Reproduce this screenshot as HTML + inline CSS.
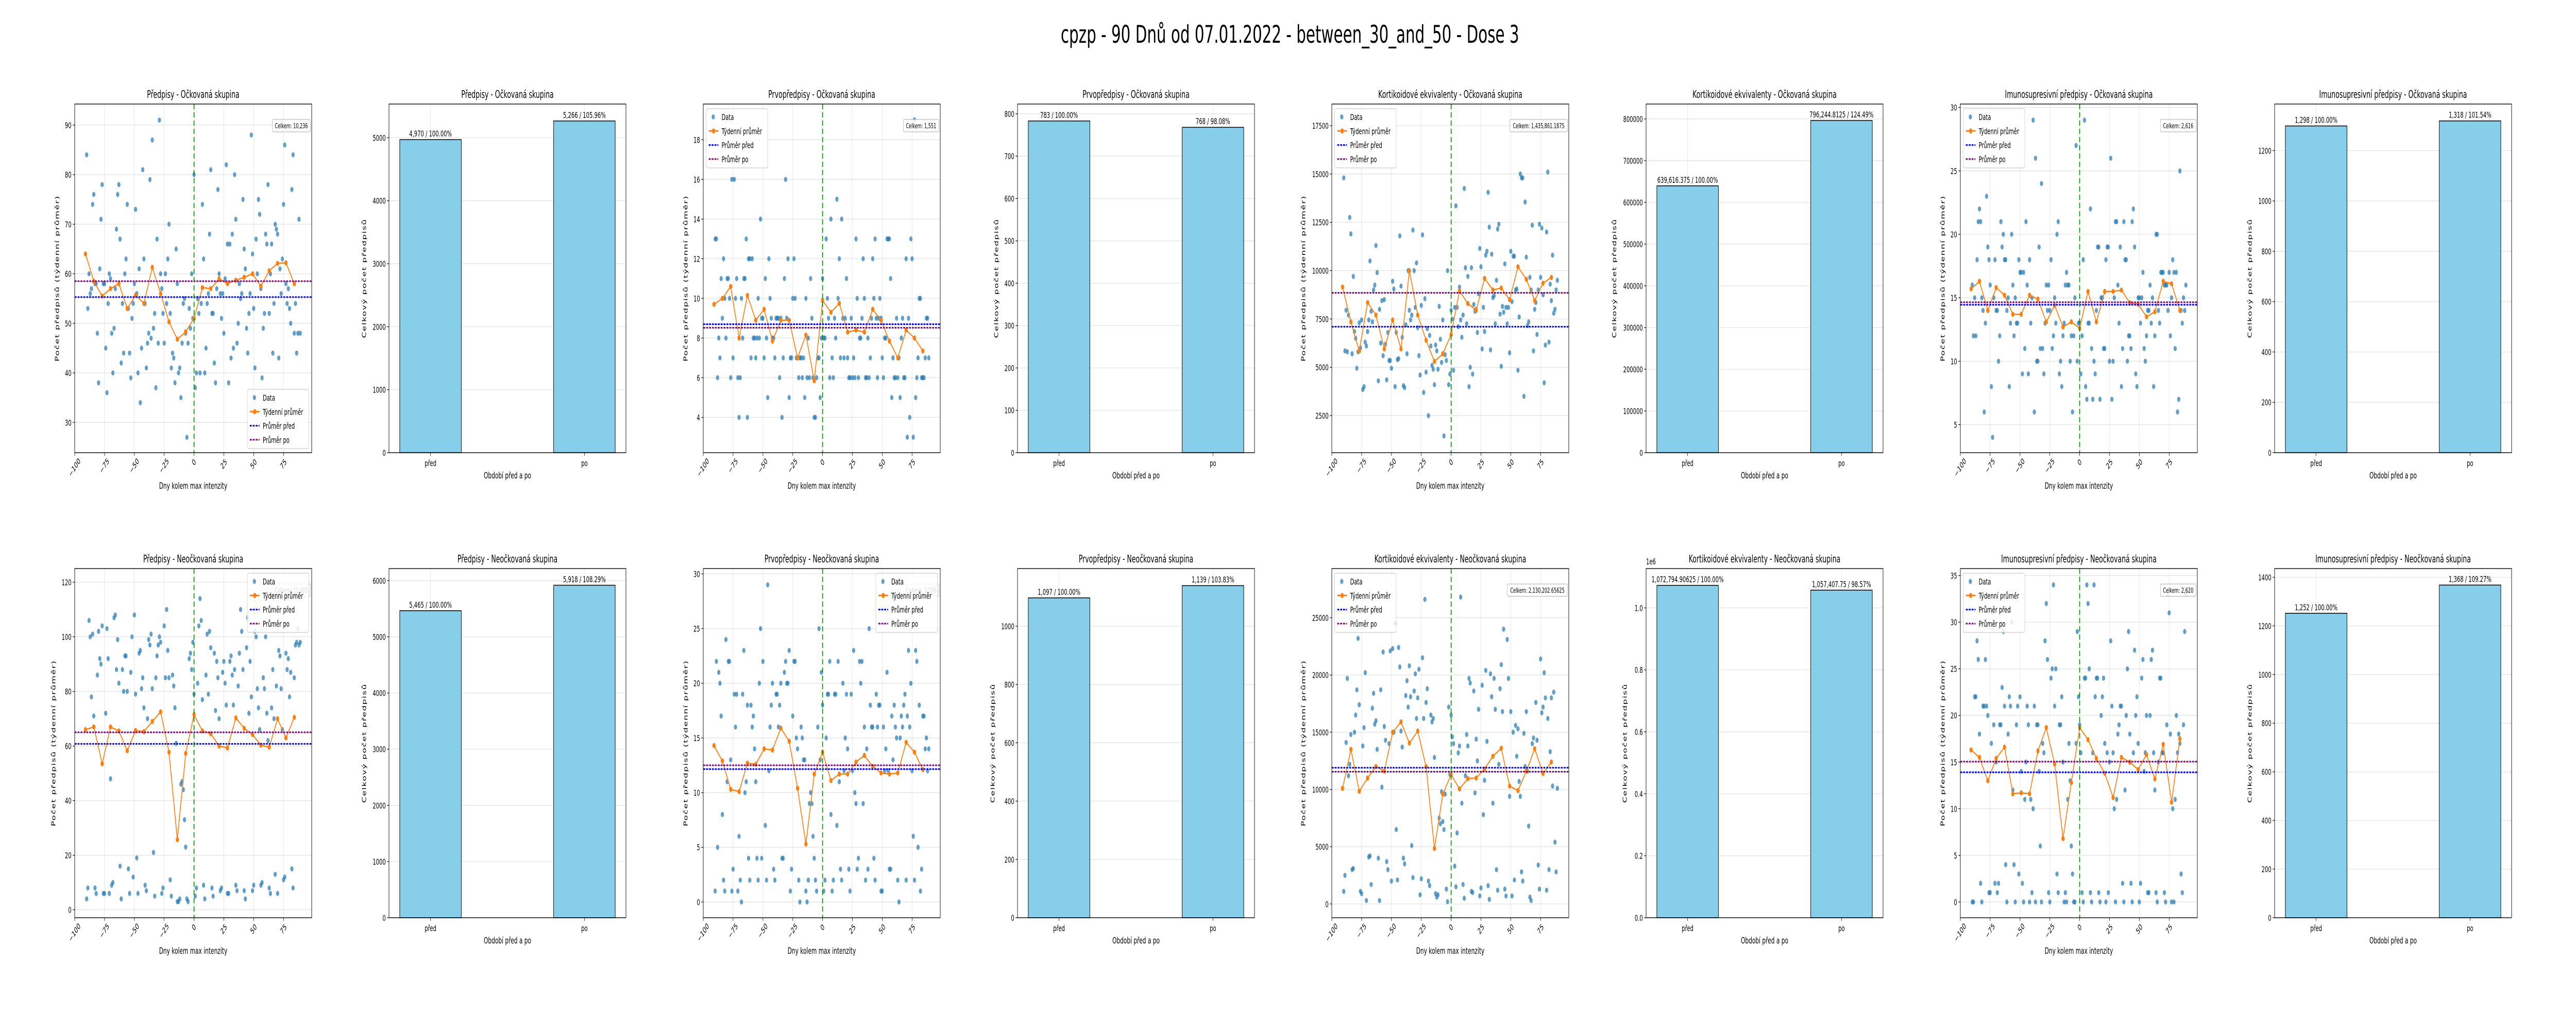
<!DOCTYPE html>
<html><head><meta charset="utf-8">
<style>
html,body{margin:0;padding:0;background:#fff;overflow:hidden;width:100vw;height:100vh;}
svg{display:block;width:100vw;height:100vh;font-family:"DejaVu Sans","Liberation Sans",sans-serif;}
</style></head>
<body>
<svg id="fig" xmlns="http://www.w3.org/2000/svg" viewBox="0 0 8000 2000" preserveAspectRatio="none">
<rect x="0" y="0" width="8000" height="2000" fill="#fff"/>
<text x="4006" y="83" font-size="47" text-anchor="middle" fill="#000">cpzp - 90 Dnů od 07.01.2022 - between_30_and_50 - Dose 3</text>
</svg>
<script>
// ---------- data ----------
const p1Daily=[84,53,60,56,57,74,76,58,58,48,38,61,71,78,58,58,45,36,54,60,59,48,40,49,57,69,76,78,67,42,54,44,60,63,74,53,44,39,51,54,58,73,56,40,61,34,45,81,63,54,41,46,48,79,47,87,49,52,37,67,46,91,60,57,52,46,60,54,63,70,52,41,44,43,38,65,58,40,41,35,46,54,55,48,27,46,53,49,60,51,80,37,40,55,52,40,54,74,63,40,45,54,56,68,81,52,52,42,38,57,77,60,56,51,56,48,59,82,66,38,66,43,68,45,80,71,46,50,58,55,56,75,65,61,49,44,52,56,88,64,53,41,67,60,75,72,57,39,49,52,68,66,78,52,60,66,44,54,70,69,68,43,61,56,63,74,86,58,54,57,53,50,77,84,48,54,44,48,71,48];
const p1Weekly=[64,58.5,55.5,57,58,53,55.7,54,61.3,56,50.3,46.8,48.3,51,57.2,57,59,58,58.7,59.3,60,57.5,60.6,62.1,62.2,58];
const p1Means=[55.3,58.5];
const p2Values=[4970,5266];

const p3Daily=[13,13,6,8,7,11,9,12,10,8,11,11,10,6,16,7,16,10,11,6,4,6,10,8,11,11,13,4,12,12,7,12,8,8,7,8,10,8,14,9,9,7,11,8,5,12,10,9,8,8,7,9,9,9,6,9,4,7,11,16,9,12,5,7,7,10,12,10,7,7,6,7,7,6,7,5,10,6,8,6,11,9,6,4,4,6,7,7,5,8,11,8,8,13,10,9,6,14,7,6,9,8,15,10,12,7,14,9,7,9,11,7,6,6,9,6,7,6,13,10,6,8,8,9,12,10,6,6,8,6,7,9,12,10,13,9,6,9,10,9,7,6,8,8,13,13,13,11,5,7,6,6,9,6,7,5,8,9,6,6,12,3,9,4,13,12,3,19,5,6,7,10,10,6,6,6,7,9,9,7];
const p3Weekly=[9.7,10,10.6,8,10.15,8.9,9.45,7.85,8.9,8.9,7,8.15,5.85,9.9,9.3,9.75,8.3,8.4,8.3,9.45,8.9,7.85,7,8.4,8,7.35];
const p3Means=[8.7,8.52];
const p4Values=[783,768];

const p5Daily=[14800,5850,7950,5800,7700,12750,11900,5700,9700,6850,6500,4950,5800,7300,6000,7450,3850,4000,6300,6100,6850,7450,10500,7900,7350,9000,9250,11300,9900,4300,8000,6250,8450,5600,8500,6200,4350,6800,5350,5350,4950,9450,9050,4000,6800,5400,5450,11800,9200,6550,4050,3950,7200,5700,10000,7950,7450,7700,12100,10000,8100,10400,7050,5600,4600,8200,11850,3700,8550,4750,7000,2500,6650,6100,5100,4900,4100,6150,5850,4900,8150,6450,5250,7450,1450,5650,5350,10000,4100,4650,7950,7500,4850,8100,13350,8100,7100,9150,7450,6550,7700,14250,10150,7250,9700,4000,5000,10150,4650,8250,7900,8000,6800,8800,11150,10200,5950,8100,6850,10800,11000,14050,12250,5900,10850,8600,8700,7250,9500,12150,12400,7750,5050,8150,7850,10350,8100,7250,8100,5750,11000,8400,10750,10750,9000,9050,4850,7600,15000,14800,14800,3500,13550,10700,7150,7350,9650,9000,12350,5850,8000,8350,6700,9000,12400,9650,12200,8750,4200,6150,12000,15100,6300,9300,8450,10800,7800,8000,9000,9500];
const p5Weekly=[9150,7350,5850,8350,7700,5950,7450,5950,10000,7700,6400,5300,5700,6700,8950,8300,7950,9600,9000,9100,8500,10200,9550,8450,9350,9650];
const p5Means=[7100,8850];
const p6Values=[639616.375,796244.8125];

const p7Daily=[16,12,15,12,18,21,22,21,15,14,6,13,23,19,18,16,8,4,15,18,14,14,10,12,21,19,20,18,18,14,15,8,13,20,16,12,15,13,13,18,17,17,9,17,11,21,16,9,18,13,15,29,6,26,10,10,19,11,24,11,9,13,16,14,16,14,18,11,12,15,13,20,21,9,10,8,12,13,16,17,16,16,10,12,6,12,15,27,10,13,13,9,12,18,29,8,7,13,13,22,11,7,10,9,14,19,19,7,15,15,11,11,18,19,19,10,26,7,10,15,21,21,16,13,19,8,11,21,18,18,10,12,12,11,21,22,19,9,8,15,15,13,15,17,11,10,12,14,14,16,13,15,8,12,20,20,14,13,17,17,17,16,16,16,14,17,12,15,18,17,11,17,6,7,25,14,13,15,14,16];
const p7Weekly=[15.7,16.3,14,15.8,15.2,13.7,13.7,15.2,14.9,13.1,14.4,12.7,13.1,12.6,15.5,13.1,15.5,15.5,15.6,14.6,14.5,13.5,13.9,16.3,16.1,14];
const p7Means=[14.45,14.65];
const p8Values=[1298,1318];

const p9Daily=[4,8,106,100,78,101,71,8,6,86,102,92,90,104,6,6,72,103,92,6,48,9,10,107,108,88,99,83,16,4,88,80,93,93,80,15,6,87,100,12,108,79,19,6,94,95,81,85,74,9,7,70,99,97,101,81,21,5,85,93,97,100,98,6,8,104,85,110,95,85,11,5,86,82,74,61,3,3,4,46,47,44,33,23,4,3,92,94,88,98,79,5,8,83,104,114,106,77,9,4,86,101,79,102,96,8,5,94,73,91,85,70,7,8,87,91,83,75,6,6,91,93,86,75,88,9,7,82,94,110,102,88,7,4,96,107,72,91,78,7,9,102,100,81,74,66,9,10,85,81,100,72,62,8,6,74,88,70,13,82,6,95,93,81,66,11,12,94,88,92,78,87,15,8,85,97,98,103,97,98];
const p9Weekly=[66,67,53.5,67,65.5,58.3,65.7,65.3,69,72.5,57.7,25.7,57.3,71.5,65.5,64.5,60,59.3,70.3,66.5,64.2,60.3,59.6,70,63,70.5];
const p9Means=[60.8,65];
const p10Values=[5465,5918];

const p11Daily=[1,22,5,21,20,17,8,2,1,24,11,22,22,13,1,3,19,16,19,1,6,2,0,19,23,10,11,18,4,2,18,16,17,14,11,4,2,20,25,4,22,14,7,2,29,12,16,18,20,3,2,19,19,16,18,20,4,4,21,22,20,20,23,1,3,17,22,22,15,14,2,0,16,15,13,13,1,0,2,9,10,9,6,4,2,1,16,25,13,21,18,1,2,15,19,19,22,8,1,2,19,19,7,22,11,3,2,20,12,15,19,14,3,1,19,12,23,10,9,3,4,22,20,22,9,16,2,14,3,25,18,16,16,4,2,19,16,18,18,1,1,16,12,14,21,12,3,3,17,13,18,16,15,2,0,15,17,16,18,19,2,17,23,16,20,12,6,2,23,22,5,18,1,3,17,17,14,15,12,14];
const p11Weekly=[14.3,12.9,10.3,10.1,12.7,12.6,14,13.9,15.9,14.7,10.4,5.3,11.7,13.7,11.1,11.7,11.7,12.8,13.4,12.4,11.8,11.7,11.8,14.6,13.7,12.1];
const p11Means=[12.15,12.5];
const p12Values=[1097,1139];

const p13Daily=[1100,2500,14100,19700,11200,12200,14800,3000,3100,15000,16500,18700,23200,17400,1100,900,13800,15400,20200,300,11000,4100,4200,1700,17100,18400,15700,16000,13500,4000,300,18700,10200,22000,15500,14300,3700,3000,14000,22100,2000,22300,15000,24500,6500,2100,22400,20700,15100,13700,4000,3500,18200,19500,17200,20800,18100,5100,2300,18600,20100,16200,18000,20500,800,2200,21500,16200,26600,17600,18800,2000,1600,16500,15900,16200,12800,900,600,800,7500,7000,9800,7200,6500,9600,1300,200,17200,11300,16500,14600,14000,3300,1500,6200,13200,13800,26800,8800,1700,500,11200,14800,13800,19700,19300,1100,1000,18600,9700,14400,12500,17000,700,1400,19100,7800,10800,20400,14200,1600,400,20100,18100,8800,19700,17000,3000,1200,12200,18800,20900,16800,24000,1300,700,23100,19700,9400,16800,700,15000,2100,15600,12900,15300,10700,9400,2800,2000,14900,12000,16800,11600,6800,600,300,14000,14500,27600,17600,14300,3400,1300,21400,16700,17200,20200,18000,1200,16200,3000,13300,18000,10300,18500,5400,2800,10100];
const p13Weekly=[10100,13500,9850,11000,12000,11600,15000,15900,14050,15100,12000,4850,9600,11300,10050,10950,11000,11800,12900,13600,10300,9900,11600,13550,11400,12400];
const p13Means=[11900,11550];
const p14Values=[1072794.90625,1057407.75];

const p15Daily=[0,0,22,22,28,26,18,2,0,21,21,26,21,20,1,1,17,31,19,2,15,1,2,19,19,23,29,21,4,0,18,22,21,30,12,4,0,19,21,3,22,14,2,0,11,15,21,19,0,11,1,10,21,0,19,19,14,6,0,17,16,28,32,26,1,0,24,25,34,21,25,3,1,19,19,22,15,0,1,0,11,17,13,6,3,0,0,17,29,22,19,16,1,0,24,24,34,32,25,1,0,16,34,22,24,24,1,0,20,22,24,17,0,16,1,15,28,21,16,10,0,11,18,19,21,21,2,0,12,20,25,29,18,2,0,16,27,20,22,17,0,2,24,26,14,16,20,1,1,20,26,27,16,12,1,0,15,24,24,16,16,1,0,19,33,31,18,0,10,0,11,20,16,18,17,3,1,19,29,33];
const p15Weekly=[16.3,15.5,13,15.4,16.6,11.6,11.7,11.6,16.2,18.7,14.8,6.8,12.8,18.7,17.4,15.4,13.8,11.2,15.5,15,14.2,15.8,13.2,16.9,10.7,17.5];
const p15Means=[13.9,15.05];
const p16Values=[1252,1368];

const xTickValues=[-100,-75,-50,-25,0,25,50,75];
const barCategories=['před','po'];
const firstDay=-90;
const firstWeekDay=-91;

// ---------- layout ----------
const NS='http://www.w3.org/2000/svg';
const svg=document.getElementById('fig');
const AX_W=736, COL0=232, COL_STEP=976;
const ROWS=[[202,879],[1104,1782]];

function mk(tag,attrs,parent,text){
  const el=document.createElementNS(NS,tag);
  for(const k in attrs) el.setAttribute(k,attrs[k]);
  if(text!==undefined) el.textContent=text;
  (parent||svg).appendChild(el);
  return el;
}
function fmtNum(v){return v.toLocaleString('en-US',{maximumFractionDigits:5});}
function tickStr(v){return (v<0?'\u2212':'')+Math.abs(v);}

const panels=[
 {kind:'s',col:0,row:0,title:'Předpisy - Očkovaná skupina',daily:p1Daily,weekly:p1Weekly,means:p1Means,yd:[23.9,94.25],yt:[30,40,50,60,70,80,90],leg:'lr',total:'Celkem: 10,236'},
 {kind:'b',col:1,row:0,title:'Předpisy - Očkovaná skupina',vals:p2Values,yd:[0,5535],yt:[0,1000,2000,3000,4000,5000]},
 {kind:'s',col:2,row:0,title:'Prvopředpisy - Očkovaná skupina',daily:p3Daily,weekly:p3Weekly,means:p3Means,yd:[2.22,19.8],yt:[4,6,8,10,12,14,16,18],leg:'ul',total:'Celkem: 1,551'},
 {kind:'b',col:3,row:0,title:'Prvopředpisy - Očkovaná skupina',vals:p4Values,yd:[0,823],yt:[0,100,200,300,400,500,600,700,800]},
 {kind:'s',col:4,row:0,title:'Kortikoidové ekvivalenty - Očkovaná skupina',daily:p5Daily,weekly:p5Weekly,means:p5Means,yd:[583,18618],yt:[2500,5000,7500,10000,12500,15000,17500],leg:'ul',total:'Celkem: 1,435,861.1875'},
 {kind:'b',col:5,row:0,title:'Kortikoidové ekvivalenty - Očkovaná skupina',vals:p6Values,yd:[0,835700],yt:[0,100000,200000,300000,400000,500000,600000,700000,800000]},
 {kind:'s',col:6,row:0,title:'Imunosupresivní předpisy - Očkovaná skupina',daily:p7Daily,weekly:p7Weekly,means:p7Means,yd:[2.79,30.27],yt:[5,10,15,20,25,30],leg:'ul',total:'Celkem: 2,616'},
 {kind:'b',col:7,row:0,title:'Imunosupresivní předpisy - Očkovaná skupina',vals:p8Values,yd:[0,1385],yt:[0,200,400,600,800,1000,1200]},
 {kind:'s',col:0,row:1,title:'Předpisy - Neočkovaná skupina',daily:p9Daily,weekly:p9Weekly,means:p9Means,yd:[-2.9,125],yt:[0,20,40,60,80,100,120],leg:'ur',total:'Celkem: 11,383'},
 {kind:'b',col:1,row:1,title:'Předpisy - Neočkovaná skupina',vals:p10Values,yd:[0,6215],yt:[0,1000,2000,3000,4000,5000,6000]},
 {kind:'s',col:2,row:1,title:'Prvopředpisy - Neočkovaná skupina',daily:p11Daily,weekly:p11Weekly,means:p11Means,yd:[-1.44,30.49],yt:[0,5,10,15,20,25,30],leg:'ur',total:'Celkem: 2,236'},
 {kind:'b',col:3,row:1,title:'Prvopředpisy - Neočkovaná skupina',vals:p12Values,yd:[0,1197.5],yt:[0,200,400,600,800,1000]},
 {kind:'s',col:4,row:1,title:'Kortikoidové ekvivalenty - Neočkovaná skupina',daily:p13Daily,weekly:p13Weekly,means:p13Means,yd:[-1202,29293],yt:[0,5000,10000,15000,20000,25000],leg:'ul',total:'Celkem: 2,130,202.65625'},
 {kind:'b',col:5,row:1,title:'Kortikoidové ekvivalenty - Neočkovaná skupina',vals:p14Values,yd:[0,1127000],yt:[0,200000,400000,600000,800000,1000000],scale:1e6},
 {kind:'s',col:6,row:1,title:'Imunosupresivní předpisy - Neočkovaná skupina',daily:p15Daily,weekly:p15Weekly,means:p15Means,yd:[-1.69,35.75],yt:[0,5,10,15,20,25,30,35],leg:'ul',total:'Celkem: 2,620'},
 {kind:'b',col:7,row:1,title:'Imunosupresivní předpisy - Neočkovaná skupina',vals:p16Values,yd:[0,1435.8],yt:[0,200,400,600,800,1000,1200,1400]}
];

panels.forEach((p,i)=>{
  const L=COL0+COL_STEP*p.col, R=L+AX_W, T=ROWS[p.row][0], B=ROWS[p.row][1];
  const g=mk('g',{});
  
  
  const y=v=>B-(v-p.yd[0])/(p.yd[1]-p.yd[0])*(B-T);
  let x;
  if(p.kind==='s'){ x=v=>L+(v+100)/198.6*AX_W; }
  else { x=v=>L+(v+0.27)/1.54*AX_W; }

  p.yt.forEach(v=>{
    const ln=mk('line',{x1:L,x2:R,y1:y(v),y2:y(v),stroke:'#b0b0b0','stroke-opacity':0.35,'stroke-width':1.3},g);
    
    
  });
  const xgrid=p.kind==='s'?xTickValues:[0,1];
  xgrid.forEach(v=>{
    const ln=mk('line',{x1:x(v),x2:x(v),y1:T,y2:B,stroke:'#b0b0b0','stroke-opacity':0.35,'stroke-width':1.3},g);
    
    
  });

  let maxLen=0;
  p.yt.forEach(v=>{
    const s=p.scale?(v/p.scale).toFixed(1):tickStr(v);
    maxLen=Math.max(maxLen,s.length);
    const tk=mk('line',{x1:L-6,x2:L,y1:y(v),y2:y(v),stroke:'#000','stroke-width':1.2},g);
    
    
    const tl=mk('text',{x:L-10,y:y(v)+6,'font-size':16,'text-anchor':'end',fill:'#000'},g,s);
    
    
  });
  if(p.scale){
    const off=mk('text',{x:L,y:T-8,'font-size':16,fill:'#000'},g,'1e6');
    
    
  }
  const yl=L-(27+11*maxLen);
  const ylab=mk('text',{x:yl,y:(T+B)/2,'font-size':17,'text-anchor':'middle',fill:'#000','letter-spacing':'1.5',transform:`rotate(-90 ${yl} ${(T+B)/2})`},g,p.kind==='s'?'Počet předpisů (týdenní průměr)':'Celkový počet předpisů');
  
  

  const tt=mk('text',{x:(L+R)/2,y:T-12,'font-size':20,'text-anchor':'middle',fill:'#000'},g,p.title);
  
  

  if(p.kind==='s'){
    xTickValues.forEach(v=>{
      const s=tickStr(v);
      const tk=mk('line',{x1:x(v),x2:x(v),y1:B,y2:B+6,stroke:'#000','stroke-width':1.2},g);
      
      
      const w=s.length*9.5;
      const cy=B+10+(w+16)*0.707/2;
      const tl=mk('text',{x:x(v),y:cy+5,'font-size':16,'text-anchor':'middle',fill:'#000',transform:`rotate(-45 ${x(v)} ${cy})`},g,s);
      
      
    });
    const xl=mk('text',{x:(L+R)/2,y:B+70,'font-size':17,'text-anchor':'middle',fill:'#000'},g,'Dny kolem max intenzity');
    
    

    p.daily.forEach((v,k)=>{
      const c=mk('circle',{cx:x(firstDay+k),cy:y(v),r:5,fill:'#1f77b4','fill-opacity':0.7},g);
      
      
    });
    const pts=p.weekly.map((v,k)=>x(firstWeekDay+7*k).toFixed(1)+','+y(v).toFixed(1)).join(' ');
    const pl=mk('polyline',{points:pts,fill:'none',stroke:'#ff7f0e','stroke-width':2.5},g);
    
    
    p.weekly.forEach((v,k)=>{
      const c=mk('circle',{cx:x(firstWeekDay+7*k),cy:y(v),r:5,fill:'#ff7f0e'},g);
      
      
    });
    const mb=mk('line',{x1:L,x2:R,y1:y(p.means[0]),y2:y(p.means[0]),stroke:'blue','stroke-width':3,'stroke-dasharray':'6,3'},g);
    
    
    const ma=mk('line',{x1:L,x2:R,y1:y(p.means[1]),y2:y(p.means[1]),stroke:'purple','stroke-width':3,'stroke-dasharray':'6,3'},g);
    
    
    const vl=mk('line',{x1:x(0),x2:x(0),y1:T,y2:B,stroke:'green','stroke-width':2.5,'stroke-dasharray':'10,6'},g);
    
    

    const tw=p.total.length*7.6+12;
    const tb=mk('rect',{x:R-4-tw,y:T+30,width:tw,height:24,rx:3,fill:'#fff','fill-opacity':0.85,stroke:'#aaa','stroke-width':1},g);
    
    
    const tx=mk('text',{x:R-4-tw/2,y:T+47,'font-size':13,'text-anchor':'middle',fill:'#000'},g,p.total);
    
    

    const LW=191,LH=115;
    let lx,ly;
    if(p.leg==='lr'){lx=R-9-LW;ly=B-8-LH;}
    else if(p.leg==='ul'){lx=L+9;ly=T+9;}
    else {lx=R-9-LW;ly=T+9;}
    const lg=mk('g',{},g);
    
    
    const lb=mk('rect',{x:lx,y:ly,width:LW,height:LH,rx:4,fill:'#fff','fill-opacity':0.85,stroke:'#ccc','stroke-width':1.2},lg);
    
    
    const labels=['Data','Týdenní průměr','Průměr před','Průměr po'];
    labels.forEach((lab,k)=>{
      const cy=ly+16+k*27.3;
      const e=mk('g',{},lg);
      
      
      if(k===0){mk('circle',{cx:lx+22,cy:cy,r:5,fill:'#1f77b4','fill-opacity':0.7},e);}
      else if(k===1){mk('line',{x1:lx+8,x2:lx+38,y1:cy,y2:cy,stroke:'#ff7f0e','stroke-width':3},e);mk('circle',{cx:lx+23,cy:cy,r:5,fill:'#ff7f0e'},e);}
      else {mk('line',{x1:lx+8,x2:lx+38,y1:cy,y2:cy,stroke:k===2?'blue':'purple','stroke-width':3,'stroke-dasharray':'6,3'},e);}
      mk('text',{x:lx+48,y:cy+6,'font-size':16,fill:'#000'},e,lab);
    });
  } else {
    p.vals.forEach((v,k)=>{
      const bx=x(k-0.2), bw=x(k+0.2)-x(k-0.2);
      const r=mk('rect',{x:bx,y:y(v),width:bw,height:B-y(v),fill:'#87ceeb',stroke:'#000','stroke-width':1.5},g);
      
      
      const pct=(v/p.vals[0]*100).toFixed(2);
      const t=mk('text',{x:x(k),y:y(v)-6,'font-size':16,'text-anchor':'middle',fill:'#000'},g,fmtNum(v)+' / '+pct+'%');
      
      
      const tk=mk('line',{x1:x(k),x2:x(k),y1:B,y2:B+6,stroke:'#000','stroke-width':1.2},g);
      
      
      const tl=mk('text',{x:x(k),y:B+26,'font-size':16,'text-anchor':'middle',fill:'#000'},g,barCategories[k]);
      
      
    });
    const xl=mk('text',{x:(L+R)/2,y:B+50,'font-size':17,'text-anchor':'middle',fill:'#000'},g,'Období před a po');
    
    
  }
  const fr=mk('rect',{x:L,y:T,width:AX_W,height:B-T,fill:'none',stroke:'#000','stroke-width':1.4},g);
  
  
});
</script>
</body></html>
